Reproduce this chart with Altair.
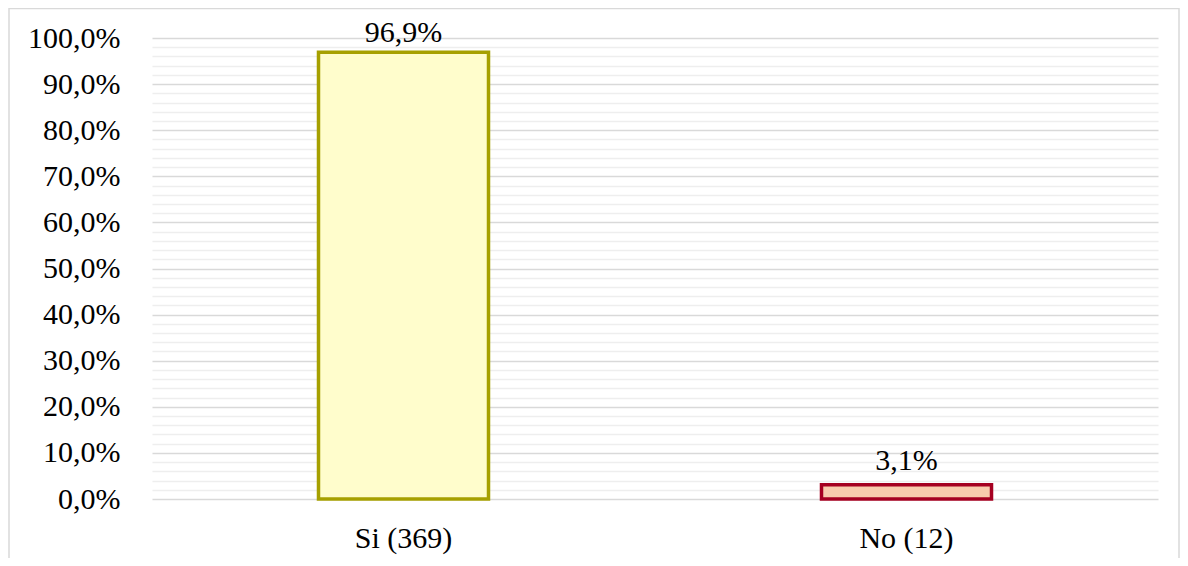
import altair as alt
import pandas as pd

categories = ["Si (369)", "No (12)"]
values = [96.9, 3.1]
labels = ["96,9%", "3,1%"]
fills = ["#FFFDCC", "#F8CBAD"]
strokes = ["#A6A000", "#A50021"]
tick_values = list(range(0, 101, 2))

df = pd.DataFrame({"cat": categories, "val": values, "lab": labels,
                   "fill": fills, "stroke": strokes})

W, H = 1006, 461
PL, PT, PR, PB = 144, 30, 22, 59
FONT = "Liberation Serif"
FS = 30

x = alt.X("cat:N", sort=categories, title=None,
          scale=alt.Scale(paddingInner=0.662, paddingOuter=0.331),
          axis=alt.Axis(labelAngle=0, labelFontSize=FS, labelFont=FONT,
                        labelColor="#000000", labelPadding=24, ticks=False,
                        domain=False, grid=False))
y = alt.Y("val:Q", title=None,
          scale=alt.Scale(domain=[0, 100], nice=False),
          axis=alt.Axis(values=tick_values, ticks=False, domain=False,
                        labelOverlap=False, labelFlush=False,
                        labelFontSize=FS, labelFont=FONT, labelColor="#000000",
                        labelPadding=32,
                        labelExpr="datum.value % 10 === 0 ? replace(format(datum.value, '.1f'), '.', ',') + '%' : ''",
                        gridColor=alt.condition("datum.value % 10 === 0",
                                                alt.value("#D9D9D9"), alt.value("#EEEEEE")),
                        gridWidth=alt.condition("datum.value % 10 === 0",
                                                alt.value(1.5), alt.value(1.3))))

bars = alt.Chart(df).mark_bar(strokeWidth=3.5).encode(
    x=x, y=y,
    fill=alt.Fill("fill:N", scale=None),
    stroke=alt.Stroke("stroke:N", scale=None),
)

text_hi = alt.Chart(df).transform_filter("datum.val > 90").mark_text(
    font=FONT, fontSize=FS, color="#000000", baseline="alphabetic", dy=-10).encode(
    x=x, y=y, text="lab:N",
)
text_lo = alt.Chart(df).transform_filter("datum.val <= 90").mark_text(
    font=FONT, fontSize=FS, color="#000000", baseline="alphabetic", dy=-15).encode(
    x=x, y=y, text="lab:N",
)

border = alt.Chart(pd.DataFrame({"a": [0]})).mark_rect(
    fill=None, stroke="#D9D9D9", strokeWidth=1.5).encode(
    x=alt.value(-PL + 1), x2=alt.value(W + PR - 1),
    y=alt.value(-PT + 0.5), y2=alt.value(H + PB + 10),
)

chart = alt.layer(border, bars, text_hi, text_lo).properties(
    width=W, height=H,
    autosize=alt.AutoSizeParams(type="none"),
    padding={"left": PL, "top": PT, "right": PR, "bottom": PB},
).configure(background="white", font=FONT).configure_view(stroke=None)

chart.save("out.html", embed_options={"renderer": "svg", "actions": False})
